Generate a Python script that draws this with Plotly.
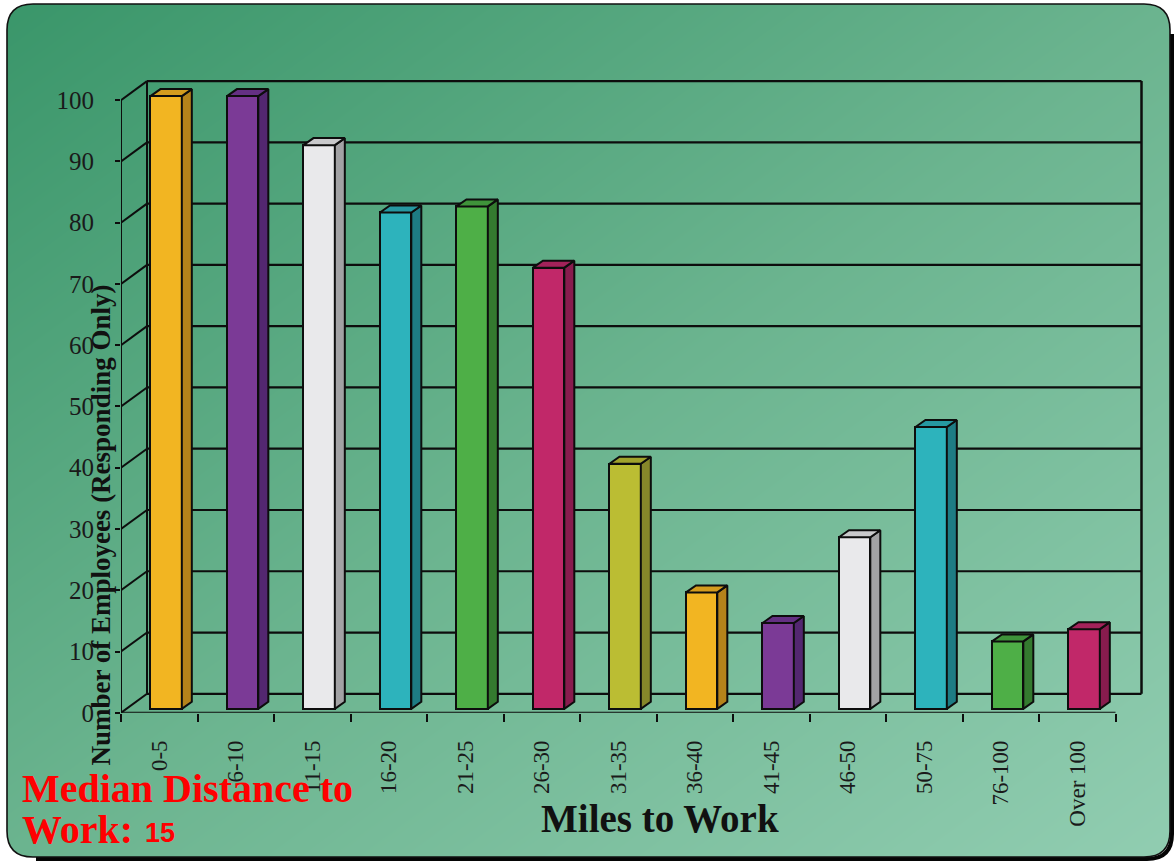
import plotly.graph_objects as go
import numpy as np

# ---------------- data ----------------
categories = ["0-5", "6-10", "11-15", "16-20", "21-25", "26-30", "31-35",
              "36-40", "41-45", "46-50", "50-75", "76-100", "Over 100"]
employees = [100, 100, 92, 81, 82, 72, 40, 19, 14, 28, 46, 11, 13]
y_tick_values = [0, 10, 20, 30, 40, 50, 60, 70, 80, 90, 100]
y_tick_labels = ["0", "10", "20", "30", "40", "50", "60", "70", "80", "90", "100"]
y_title = "Number of Employees (Responding Only)"
x_title = "Miles to Work"
note_line1 = "Median Distance to"
note_line2 = "Work:"
median_value = "15"

# ---------------- styles ----------------
front_palette = ["#F2B522", "#7B3A96", "#E9E9EB", "#2DB3BC", "#4EAF47", "#C12869", "#BBBD33"]
side_palette = ["#B5831A", "#532770", "#A2A2A4", "#1E7C84", "#347A2F", "#881C4E", "#86872A"]
top_palette = ["#D49C1E", "#643083", "#C9C9CB", "#2698A1", "#3F933A", "#A3225A", "#A0A22C"]

W, H = 1176, 878
SY = H / 863.0                               # vertical layout factor
PL, PR, PB, PT = 121, 1150, 712, 78          # plot area (reference px)
UX, VY = 76.5, 6.12                          # reference px per unit
x_range = [-0.5, -0.5 + (PR - PL) / UX]
y_range = [0, (PB - PT) / VY]
DX, DY = 26 / UX, 19 / VY                    # wall depth
BAR_OFF, BAR_W = 0.09, 0.41
BAR_BASE = 4 / VY
SDU, SDV = 10 / UX, 7 / VY                   # bar depth
LINE = "#0d0d0d"
SERIF = "Liberation Serif"

def pxx(x):
    return x / W

def pxy(y):
    return 1 - (y * SY) / H

fig = go.Figure()

# ---------------- frame geometry (reference px) ----------------
L, T, R, B, r = 7, 4, 1170, 856, 26

# ---------------- background gradient ----------------
gx = np.linspace(0, 1, 21)
gy = np.linspace(0, 1, 21)
gz = [[(xv + (1 - yv)) / 2 for xv in gx] for yv in gy]
fig.add_trace(go.Heatmap(
    x=gx, y=gy, z=gz, zsmooth="best", showscale=False, hoverinfo="skip",
    colorscale=[[0, "#3A966A"], [0.5, "#6BB48F"], [1, "#91CDB1"]],
    zmin=0, zmax=1, xaxis="x", yaxis="y"))

# ---------------- bars (front faces) ----------------
n = len(categories)
idx = list(range(n))
fronts = [front_palette[i % 7] for i in idx]
sides = [side_palette[i % 7] for i in idx]
tops = [top_palette[i % 7] for i in idx]

fig.add_trace(go.Bar(
    x=[i + BAR_OFF for i in idx], y=employees, base=BAR_BASE, width=BAR_W,
    marker=dict(color=fronts, line=dict(color=LINE, width=2)),
    xaxis="x2", yaxis="y2", hoverinfo="skip", showlegend=False))

# side and top faces derived from the data values
for i, v in enumerate(employees):
    left = i + BAR_OFF - BAR_W / 2
    right = i + BAR_OFF + BAR_W / 2
    b = BAR_BASE
    t = BAR_BASE + v
    fig.add_trace(go.Scatter(
        x=[right, right + SDU, right + SDU, right, right],
        y=[b, b + SDV, t + SDV, t, b],
        fill="toself", fillcolor=sides[i], mode="lines",
        line=dict(color=LINE, width=2), xaxis="x2", yaxis="y2",
        hoverinfo="skip", showlegend=False))
    fig.add_trace(go.Scatter(
        x=[left, left + SDU, right + SDU, right, left],
        y=[t, t + SDV, t + SDV, t, t],
        fill="toself", fillcolor=tops[i], mode="lines",
        line=dict(color=LINE, width=2), xaxis="x2", yaxis="y2",
        hoverinfo="skip", showlegend=False))

# ---------------- walls / gridlines (shapes below traces) ----------------
shapes = []
x_front_l, x_front_r = -0.5, n - 0.5
x_back_l, x_back_r = x_front_l + DX, x_front_r + DX
for v in y_tick_values:
    shapes.append(dict(type="line", xref="x2", yref="y2", layer="below",
                       x0=x_back_l, x1=x_back_r, y0=v + DY, y1=v + DY,
                       line=dict(color=LINE, width=2.2)))
    shapes.append(dict(type="line", xref="x2", yref="y2", layer="below",
                       x0=x_front_l, x1=x_back_l, y0=v, y1=v + DY,
                       line=dict(color=LINE, width=2)))
top_v = max(y_tick_values)
shapes.append(dict(type="line", xref="x2", yref="y2", layer="below",
                   x0=x_back_l, x1=x_back_l, y0=DY, y1=top_v + DY,
                   line=dict(color=LINE, width=2)))
shapes.append(dict(type="line", xref="x2", yref="y2", layer="below",
                   x0=x_back_r, x1=x_back_r, y0=DY, y1=top_v + DY,
                   line=dict(color=LINE, width=2.5)))
shapes.append(dict(type="line", xref="x2", yref="y2", layer="below",
                   x0=x_front_l, x1=x_front_l, y0=0, y1=top_v,
                   line=dict(color=LINE, width=2)))
shapes.append(dict(type="line", xref="x2", yref="y2", layer="below",
                   x0=x_front_l, x1=x_front_r, y0=0, y1=0,
                   line=dict(color=LINE, width=2)))

# ---------------- frame: rounded corners, border, shadow ----------------
def P(x, y):
    return f"{pxx(x):.5f},{pxy(y):.5f}"

corner_masks = [
    f"M {P(L, T)} L {P(L + r, T)} Q {P(L, T)} {P(L, T + r)} Z",
    f"M {P(R, T)} L {P(R - r, T)} Q {P(R, T)} {P(R, T + r)} Z",
    f"M {P(R, B)} L {P(R - r, B)} Q {P(R, B)} {P(R, B - r)} Z",
    f"M {P(L, B)} L {P(L + r, B)} Q {P(L, B)} {P(L, B - r)} Z",
]
for pth in corner_masks:
    shapes.append(dict(type="path", xref="paper", yref="paper", layer="above",
                       path=pth, fillcolor="white", line=dict(width=0)))

s = 3
shadow = (f"M {P(R + s - 1, T + r + 4)} L {P(R + s - 1, B - r + s)} "
          f"Q {P(R + s - 1, B + s - 1)} {P(R - r + s, B + s - 1)} "
          f"L {P(L + r + s, B + s - 1)}")
shapes.append(dict(type="path", xref="paper", yref="paper", layer="above",
                   path=shadow, line=dict(color="#050505", width=4)))
border = (f"M {P(L + r, T)} L {P(R - r, T)} Q {P(R, T)} {P(R, T + r)} "
          f"L {P(R, B - r)} Q {P(R, B)} {P(R - r, B)} L {P(L + r, B)} "
          f"Q {P(L, B)} {P(L, B - r)} L {P(L, T + r)} Q {P(L, T)} {P(L + r, T)} Z")
shapes.append(dict(type="path", xref="paper", yref="paper", layer="above",
                   path=border, line=dict(color="#111111", width=1.6)))

# ---------------- annotations ----------------
annotations = [
    dict(text=f"<b>{y_title}</b>", xref="paper", yref="paper",
         x=pxx(101), y=pxy(525), textangle=-90, showarrow=False,
         xanchor="center", yanchor="middle",
         font=dict(family=SERIF, size=27, color="#111111")),
    dict(text=f"<b>{x_title}</b>", xref="paper", yref="paper",
         x=pxx(660), y=pxy(818), showarrow=False,
         xanchor="center", yanchor="middle",
         font=dict(family=SERIF, size=39, color="#111111")),
    dict(text=f"<b>{note_line1}</b>", xref="paper", yref="paper",
         x=pxx(20), y=pxy(788), showarrow=False,
         xanchor="left", yanchor="middle",
         font=dict(family=SERIF, size=40, color="#FF0000")),
    dict(text=f"<b>{note_line2}</b>", xref="paper", yref="paper",
         x=pxx(20), y=pxy(829), showarrow=False,
         xanchor="left", yanchor="middle",
         font=dict(family=SERIF, size=40, color="#FF0000")),
    dict(text=f"<b>{median_value}</b>", xref="paper", yref="paper",
         x=pxx(143), y=pxy(832), showarrow=False,
         xanchor="left", yanchor="middle",
         font=dict(family="Liberation Sans", size=27, color="#FF0000")),
]

fig.update_layout(
    width=W, height=H,
    margin=dict(l=0, r=0, t=0, b=0),
    paper_bgcolor="white",
    plot_bgcolor="rgba(0,0,0,0)",
    showlegend=False,
    bargap=0,
    shapes=shapes,
    annotations=annotations,
    xaxis=dict(domain=[pxx(L), pxx(R)], range=[0, 1], visible=False, fixedrange=True),
    yaxis=dict(domain=[pxy(B), pxy(T)], range=[0, 1], visible=False, fixedrange=True),
    xaxis2=dict(domain=[pxx(PL), pxx(PR)], range=x_range, anchor="y2",
                showgrid=False, zeroline=False, showline=False,
                tickmode="array", tickvals=idx, ticktext=categories,
                ticks="", tickangle=-90, ticklabelstandoff=22,
                tickfont=dict(family=SERIF, size=23, color="#1a1a1a"),
                minor=dict(tickmode="array",
                           tickvals=[i - 0.5 for i in range(n + 1)],
                           ticks="outside", ticklen=8, tickwidth=2,
                           tickcolor=LINE, showgrid=False)),
    yaxis2=dict(domain=[pxy(PB), pxy(PT)], range=y_range, anchor="x2",
                showgrid=False, zeroline=False, showline=False,
                tickmode="array", tickvals=y_tick_values, ticktext=y_tick_labels,
                ticks="outside", ticklen=5, tickwidth=2, tickcolor=LINE,
                ticklabelstandoff=16,
                tickfont=dict(family=SERIF, size=25, color="#1a1a1a")),
)

fig.write_html("out.html")
